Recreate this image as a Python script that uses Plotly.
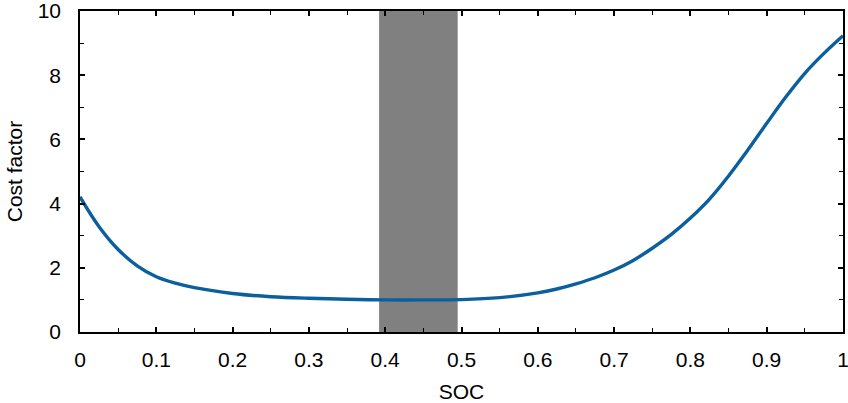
import plotly.graph_objects as go

# State of charge samples and the corresponding cost factor
soc = [0.0, 0.025, 0.05, 0.075, 0.10, 0.125, 0.15, 0.20, 0.25, 0.30, 0.35, 0.40,
       0.45, 0.50, 0.55, 0.60, 0.625, 0.65, 0.675, 0.70, 0.725, 0.75, 0.775,
       0.80, 0.825, 0.85, 0.875, 0.90, 0.925, 0.95, 0.975, 1.0]
cost = [4.21, 3.28, 2.57, 2.06, 1.72, 1.52, 1.38, 1.20, 1.10, 1.05, 1.02, 1.00,
        1.00, 1.01, 1.07, 1.22, 1.34, 1.50, 1.69, 1.93, 2.23, 2.61, 3.04,
        3.55, 4.14, 4.86, 5.66, 6.50, 7.32, 8.06, 8.68, 9.23]

# Preferred operating window of the state of charge
window_lo = 0.392
window_hi = 0.495

x_ticks = [0, 0.1, 0.2, 0.3, 0.4, 0.5, 0.6, 0.7, 0.8, 0.9, 1]
x_tick_text = ["0", "0.1", "0.2", "0.3", "0.4", "0.5", "0.6", "0.7", "0.8", "0.9", "1"]
y_ticks = [0, 2, 4, 6, 8, 10]

FONT = dict(family="Liberation Sans, Arial", size=21, color="black")

fig = go.Figure()
fig.add_trace(go.Scatter(
    x=soc, y=cost, mode="lines",
    line=dict(color="#0b5f9d", width=3.4, shape="spline", smoothing=1.0),
    showlegend=False, hoverinfo="skip",
))

fig.add_shape(type="rect", xref="x", yref="y",
              x0=window_lo, x1=window_hi, y0=0, y1=10,
              fillcolor="#808080", line=dict(width=0), layer="below")

axis_common = dict(
    showgrid=False, zeroline=False, showline=True, linecolor="black",
    linewidth=1.5, mirror="ticks", ticks="inside", ticklen=5, tickwidth=1.5,
    tickcolor="black", tickfont=FONT, ticklabeloverflow="allow",
    automargin=False,
)

fig.update_xaxes(
    range=[0, 1], tickvals=x_ticks, ticktext=x_tick_text,
    minor=dict(dtick=0.05, ticks="inside", ticklen=4, tickwidth=1.2, tickcolor="black"),
    title=dict(text="SOC", font=FONT, standoff=14),
    ticklabelstandoff=8,
    **axis_common,
)
fig.update_yaxes(
    range=[0, 10], tickvals=y_ticks,
    minor=dict(dtick=1, ticks="inside", ticklen=4, tickwidth=1.2, tickcolor="black"),
    title=dict(text="Cost factor", font=FONT, standoff=9),
    ticklabelstandoff=13,
    **axis_common,
)

fig.update_layout(
    width=848, height=403,
    margin=dict(l=80, r=5, t=11, b=71),
    paper_bgcolor="white", plot_bgcolor="white",
)

fig.write_html("out.html")
